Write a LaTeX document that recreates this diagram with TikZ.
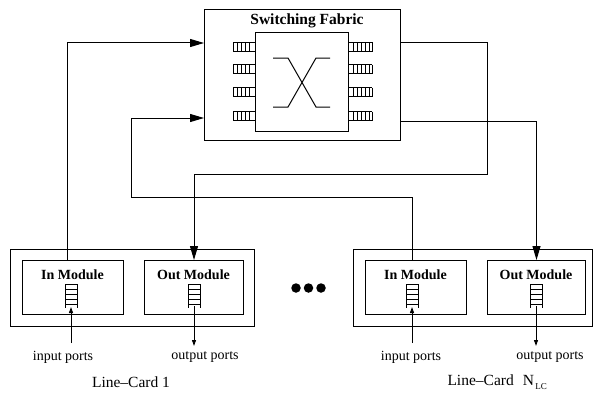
\documentclass[tikz,border=0pt]{standalone}
\usepackage{fontspec}
\setmainfont{Liberation Serif}
\usetikzlibrary{arrows.meta}
\begin{document}
\begin{tikzpicture}[x=1pt,y=-1pt,line width=1pt,
  box/.style={draw,line width=1pt,inner sep=0pt,anchor=north west},
  modlabel/.style={font=\fontsize{14}{16}\selectfont\bfseries,inner sep=0pt},
  portlabel/.style={font=\fontsize{14}{16}\selectfont,inner sep=0pt},
  cardlabel/.style={font=\fontsize{15.5}{17}\selectfont,inner sep=0pt},
  big/.style={-{Triangle[length=14pt,width=8pt]}},
  small/.style={-{Triangle[length=6pt,width=4pt]}},
  dotmark/.style={circle,fill,inner sep=0pt,minimum size=9.5pt},
  vqueue/.pic={\draw[line width=0.8pt] (-6,0) -- (-6,24) (6,0) -- (6,24);
    \foreach \yy in {0,5,10,15,20} \draw[line width=0.8pt] (-6,\yy) -- (6,\yy);}
]
\useasboundingbox (0,0) rectangle (593,396);

% Switching fabric
\node[box,minimum width=196pt,minimum height=131pt] (fab) at (204,9) {};
\node[box,minimum width=93pt,minimum height=99pt] (core) at (255,32) {};
\node[font=\fontsize{15.5}{17}\selectfont\bfseries,inner sep=0pt] (fabt) at (307,21) {Switching Fabric};
\foreach \yy in {47,69,92,116} {
  \draw[line width=0.8pt] (233,\yy-4.5) -- (255,\yy-4.5) (233,\yy+4.5) -- (255,\yy+4.5);
  \foreach \xx in {233,237,241,245,249} \draw[line width=0.8pt] (\xx,\yy-4.5) -- (\xx,\yy+4.5);
  \draw[line width=0.8pt] (348,\yy-4.5) -- (372,\yy-4.5) (348,\yy+4.5) -- (372,\yy+4.5);
  \foreach \xx in {353,357,361,365,369,372} \draw[line width=0.8pt] (\xx,\yy-4.5) -- (\xx,\yy+4.5);
}
\draw (273,58) -- (288,58) -- (316,107) -- (330,107);
\draw (330,58) -- (316,58) -- (288,107) -- (273,107);

% Line card 1
\node[box,minimum width=244pt,minimum height=77pt] (lc1) at (10,249) {};
\node[box,minimum width=101pt,minimum height=54pt] (in1) at (22,260) {};
\node[box,minimum width=99pt,minimum height=54pt] (out1) at (144,260) {};
\node[modlabel] (in1t) at (72.5,275) {In Module};
\node[modlabel] (out1t) at (193.5,275) {Out Module};
\pic at (71,284) {vqueue};
\pic at (194,284) {vqueue};
\coordinate (qi1) at (71,307);
\coordinate (qo1) at (194,306);
\coordinate (pi1) at (71,343);
\coordinate (po1) at (194,346);
\node[portlabel] (ip1) at (63,357) {input ports};
\node[portlabel] (op1) at (205,357) {output ports};
\node[cardlabel] (lc1t) at (131,382) {Line--Card 1};
\draw[small] (pi1) -- (qi1);
\draw[small] (qo1) -- (po1);

% Line card N
\node[box,minimum width=239pt,minimum height=77pt] (lcN) at (353,249) {};
\node[box,minimum width=101pt,minimum height=54pt] (inN) at (365,260) {};
\node[box,minimum width=98pt,minimum height=54pt] (outN) at (487,260) {};
\node[modlabel] (inNt) at (415.5,275) {In Module};
\node[modlabel] (outNt) at (536,275) {Out Module};
\pic at (412,284) {vqueue};
\pic at (536,284) {vqueue};
\coordinate (qiN) at (412,307);
\coordinate (qoN) at (536,306);
\coordinate (piN) at (412,343);
\coordinate (poN) at (536,346);
\node[portlabel] (ipN) at (411,357) {input ports};
\node[portlabel] (opN) at (550,357) {output ports};
\node[cardlabel,anchor=west] (lcNt) at (447,382) {Line--Card\hspace{9pt}N\raisebox{-4pt}{\fontsize{9}{10}\selectfont\,LC}};
\draw[small] (piN) -- (qiN);
\draw[small] (qoN) -- (poN);

% dots
\node[dotmark] (d1) at (296,288) {};
\node[dotmark] (d2) at (308.5,288) {};
\node[dotmark] (d3) at (321,288) {};

% connectors
\coordinate (c2) at (131,197);
\coordinate (c3) at (487,174);
\draw[big] ([xshift=-5.5pt]in1.north) |- ([yshift=-34pt]fab.north west);
\draw[big] ([xshift=-3.5pt]inN.north) |- (c2) |- ([yshift=-109pt]fab.north west);
\draw[big] ([yshift=-34pt]fab.north east) -| (c3) -| (out1.north);
\draw[big] ([yshift=-112pt]fab.north east) -| (outN.north);
\end{tikzpicture}
\end{document}
